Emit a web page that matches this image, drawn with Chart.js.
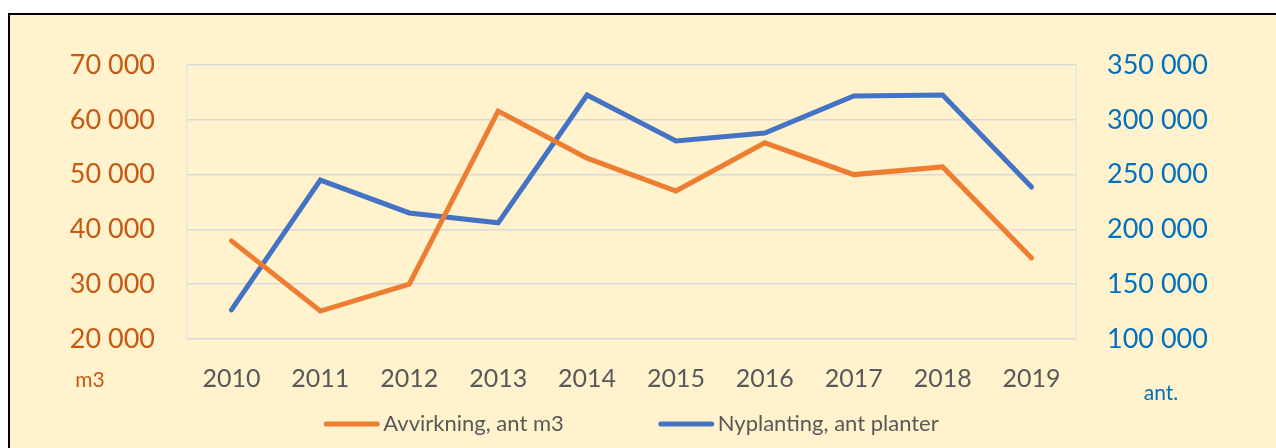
<!DOCTYPE html>
<html>
<head>
<meta charset="utf-8">
<script src="https://cdn.jsdelivr.net/npm/chart.js@4"></script>
<style>
  body { margin: 0; background: #fff; }
  #box {
    position: absolute; left: 8px; top: 13px;
    width: 1266px; height: 433px;
    border-top: 2px solid #000; border-left: 2px solid #000;
    background: #FFF2CC;
  }
  canvas { display: block; }
</style>
</head>
<body>
<div id="box"><canvas id="chart" width="1266" height="433"></canvas></div>
<script>
// data
const years = ['2010', '2011', '2012', '2013', '2014', '2015', '2016', '2017', '2018', '2019'];
const avvirkning = [37900, 25100, 30000, 61600, 53000, 47000, 55800, 50000, 51400, 34800];
const nyplanting = [126500, 245000, 215000, 206000, 322600, 280700, 288000, 321700, 322600, 238700];
const leftTicks = [20000, 30000, 40000, 50000, 60000, 70000];
const rightTicks = [100000, 150000, 200000, 250000, 300000, 350000];

const fontFamily = 'Lato, "Noto Sans", sans-serif';

function fmt(v) {
    return String(v).replace(/\B(?=(\d{3})+(?!\d))/g, ' ');
}

// axis unit labels and legend, drawn under the plot area
const extras = {
    id: 'extras',
    afterDraw(chart) {
        const ctx = chart.ctx;
        const area = chart.chartArea;
        ctx.save();
        ctx.font = '21px ' + fontFamily;
        ctx.textAlign = 'center';
        ctx.textBaseline = 'middle';
        ctx.fillStyle = '#C55A11';
        ctx.fillText('m3', area.left - 97, area.bottom + 41);
        ctx.fillStyle = '#0070C0';
        ctx.fillText('ant.', area.right + 85, area.bottom + 54);

        // legend
        ctx.font = '22px ' + fontFamily;
        ctx.textAlign = 'left';
        const boxW = 55, gap = 4, itemGap = 95;
        const items = chart.data.datasets.map(ds => ({
            text: ds.label, color: ds.borderColor, w: boxW + gap + ctx.measureText(ds.label).width
        }));
        const total = items.reduce((a, it) => a + it.w, 0) + itemGap * (items.length - 1);
        let x = (area.left + area.right) / 2 - total / 2;
        const y = area.bottom + 85;
        items.forEach(it => {
            ctx.strokeStyle = it.color;
            ctx.lineWidth = 5;
            ctx.lineCap = 'round';
            ctx.beginPath();
            ctx.moveTo(x + 2, y);
            ctx.lineTo(x + boxW - 2, y);
            ctx.stroke();
            ctx.fillStyle = '#595959';
            ctx.fillText(it.text, x + boxW + gap, y);
            x += it.w + itemGap;
        });
        ctx.restore();
    }
};

const ctx = document.getElementById('chart').getContext('2d');
new Chart(ctx, {
    type: 'line',
    data: {
        labels: years,
        datasets: [
            {
                label: 'Avvirkning, ant m3',
                data: avvirkning,
                yAxisID: 'y',
                borderColor: '#ED7D31',
                backgroundColor: '#ED7D31',
                borderWidth: 5,
                borderCapStyle: 'round',
                pointRadius: 0,
                tension: 0
            },
            {
                label: 'Nyplanting, ant planter',
                data: nyplanting,
                yAxisID: 'y1',
                borderColor: '#4472C4',
                backgroundColor: '#4472C4',
                borderWidth: 5,
                borderCapStyle: 'round',
                pointRadius: 0,
                tension: 0
            }
        ]
    },
    options: {
        responsive: false,
        animation: false,
        layout: { padding: { top: 50, left: 0, right: 0, bottom: 0 } },
        plugins: {
            legend: { display: false },
            tooltip: { enabled: false }
        },
        scales: {
            x: {
                offset: true,
                grid: { display: false, drawTicks: false },
                border: { display: false },
                ticks: { color: '#595959', font: { family: fontFamily, size: 25 }, padding: 25 },
                afterFit(scale) { scale.height = 109; }
            },
            y: {
                position: 'left',
                min: leftTicks[0],
                max: leftTicks[leftTicks.length - 1],
                afterBuildTicks(scale) { scale.ticks = leftTicks.map(v => ({ value: v })); },
                grid: { color: '#D9D9D9', lineWidth: 1.5, drawTicks: false },
                border: { color: '#DDEBDF', width: 1.5 },
                ticks: {
                    color: '#C55A11',
                    font: { family: fontFamily, size: 27 },
                    padding: 32,
                    callback: v => fmt(v)
                },
                afterFit(scale) { scale.width = 177; }
            },
            y1: {
                position: 'right',
                min: rightTicks[0],
                max: rightTicks[rightTicks.length - 1],
                afterBuildTicks(scale) { scale.ticks = rightTicks.map(v => ({ value: v })); },
                grid: { drawOnChartArea: false, drawTicks: false },
                border: { color: '#DDEBDF', width: 1.5 },
                ticks: {
                    color: '#0070C0',
                    font: { family: fontFamily, size: 27 },
                    padding: 31,
                    callback: v => fmt(v)
                },
                afterFit(scale) { scale.width = 200; }
            }
        }
    },
    plugins: [extras]
});
</script>
</body>
</html>
